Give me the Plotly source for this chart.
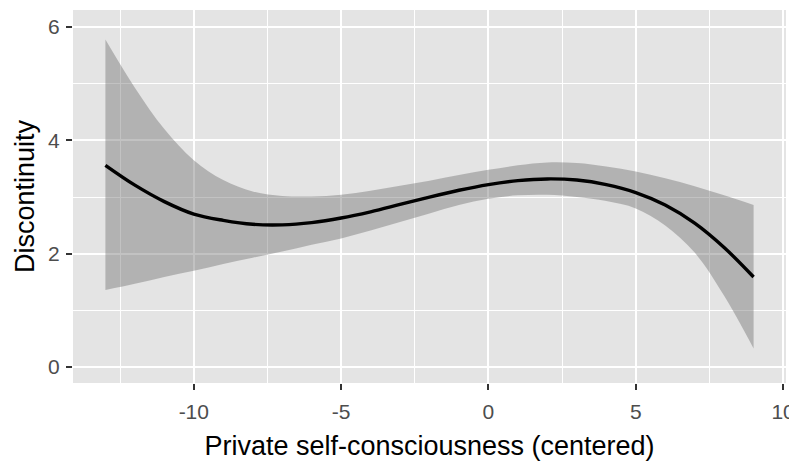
import plotly.graph_objects as go

x_vals = [-13, -12, -11, -10, -9, -8, -7, -6, -5, -4, -3, -2, -1, 0, 1, 2, 3, 4, 5, 6, 7, 8, 9]
fit = [3.56, 3.21, 2.92, 2.70, 2.59, 2.52, 2.51, 2.55, 2.63, 2.74, 2.87, 3.00, 3.12, 3.22,
       3.29, 3.32, 3.30, 3.22, 3.08, 2.86, 2.54, 2.11, 1.59]
upper = [5.78, 4.93, 4.20, 3.65, 3.30, 3.10, 3.02, 3.01, 3.04, 3.11, 3.20, 3.29, 3.39, 3.48,
         3.56, 3.61, 3.60, 3.54, 3.45, 3.33, 3.19, 3.03, 2.86]
lower = [1.36, 1.47, 1.59, 1.70, 1.82, 1.93, 2.04, 2.16, 2.27, 2.41, 2.56, 2.71, 2.86, 2.97,
         3.03, 3.04, 3.00, 2.93, 2.80, 2.50, 2.02, 1.26, 0.33]

x_ticks = [-10, -5, 0, 5, 10]
x_tick_labels = ["-10", "-5", "0", "5", "10"]
y_ticks = [0, 2, 4, 6]
y_tick_labels = ["0", "2", "4", "6"]

FONT = "Liberation Sans, Arial, sans-serif"

fig = go.Figure()
fig.add_trace(go.Scatter(x=x_vals, y=upper, mode="lines", line=dict(width=0, shape="spline"),
                         hoverinfo="skip", showlegend=False))
fig.add_trace(go.Scatter(x=x_vals, y=lower, mode="lines", line=dict(width=0, shape="spline"),
                         fill="tonexty", fillcolor="rgba(110,110,110,0.42)",
                         hoverinfo="skip", showlegend=False))
fig.add_trace(go.Scatter(x=x_vals, y=fit, mode="lines",
                         line=dict(color="black", width=3.4, shape="spline"), showlegend=False))

axis_common = dict(
    showgrid=True, gridcolor="white", gridwidth=2,
    zeroline=False, showline=False,
    ticks="outside", ticklen=6, tickwidth=2, tickcolor="#333333",
    tickfont=dict(family=FONT, size=21, color="#4D4D4D"),
    ticklabeloverflow="allow",
)

fig.update_layout(
    width=789, height=453,
    margin=dict(l=65, r=8, t=2, b=78),
    paper_bgcolor="white", plot_bgcolor="#E4E4E4",
    font=dict(family=FONT),
    xaxis=dict(axis_common, range=[-14.1, 10.1], tickvals=x_ticks, ticktext=x_tick_labels,
               ticklabelstandoff=4,
               minor=dict(showgrid=True, gridcolor="white", gridwidth=1, ticks="", dtick=2.5, tick0=-12.5),
               title=dict(text="Private self-consciousness (centered)",
                          font=dict(family=FONT, size=27, color="black"), standoff=13)),
    yaxis=dict(axis_common, range=[-0.28, 6.3], tickvals=y_ticks, ticktext=y_tick_labels,
               ticklabelstandoff=2,
               minor=dict(showgrid=True, gridcolor="white", gridwidth=1, ticks="", dtick=1, tick0=1)),
    annotations=[dict(text="Discontinuity", textangle=-90, xref="paper", yref="paper",
                      x=-0.068, y=0.5, xanchor="center", yanchor="middle", showarrow=False,
                      font=dict(family=FONT, size=27, color="black"))],
)

fig.write_html("out.html")
